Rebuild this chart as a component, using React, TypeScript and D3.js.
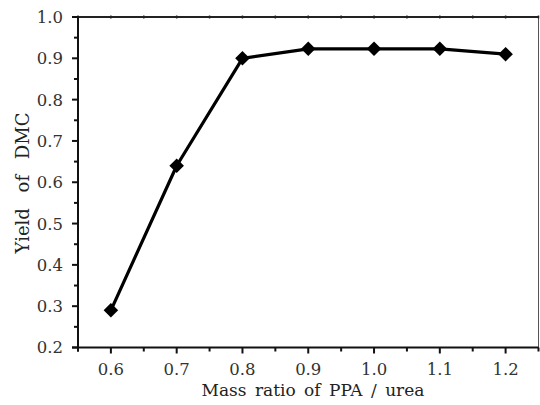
import React from "react";
import * as d3 from "d3";

const massRatio = [0.6, 0.7, 0.8, 0.9, 1.0, 1.1, 1.2];
const yieldDMC = [0.29, 0.64, 0.9, 0.923, 0.923, 0.923, 0.91];
const xTickValues = [0.6, 0.7, 0.8, 0.9, 1.0, 1.1, 1.2];
const yTickValues = [0.2, 0.3, 0.4, 0.5, 0.6, 0.7, 0.8, 0.9, 1.0];
const xLabel = "Mass ratio of PPA / urea";
const yLabel = "Yield of DMC";

export default function App() {
  const W = 540, H = 405;
  const left = 78, right = 538.5, top = 17, bottom = 347.5;
  const x = d3.scaleLinear().domain([0.55, 1.25]).range([left, right]);
  const y = d3.scaleLinear().domain([0.2, 1.0]).range([bottom, top]);
  const xMinor = d3.range(0.55, 1.26, 0.05).map(v => +v.toFixed(2));
  const yMinor = d3.range(0.2, 1.01, 0.05).map(v => +v.toFixed(2));
  const line = d3.line<number>().x((_, i) => x(massRatio[i])).y(d => y(d));
  const diamond = d3.symbol().type(d3.symbolDiamond2).size(135)();
  const font = "DejaVu Serif, Liberation Serif, serif";
  return (
    <svg width={W} height={H} style={{ position: "absolute", left: 0, top: 0, background: "#fff" }}>
      <rect x={left} y={top} width={right - left} height={bottom - top} fill="#fff" stroke="#555" strokeWidth={1} />
      {/* top axis */}
      <line x1={left} x2={right} y1={top} y2={top} stroke="#222" strokeWidth={2} />
      {xMinor.map(v => (
        <line key={"tx" + v} x1={x(v)} x2={x(v)} y1={top - 1.5} y2={top + 1.5} stroke="#222" strokeWidth={1.5} />
      ))}
      {/* bottom axis */}
      <line x1={left - 6} x2={right} y1={bottom} y2={bottom} stroke="#111" strokeWidth={2} />
      {xMinor.map(v => {
        const major = xTickValues.some(t => Math.abs(t - v) < 1e-6);
        return <line key={"bx" + v} x1={x(v)} x2={x(v)} y1={bottom} y2={bottom + (major ? 6 : 4)} stroke="#111" strokeWidth={2} />;
      })}
      {/* left axis */}
      <line x1={left} x2={left} y1={top} y2={bottom + 4} stroke="#111" strokeWidth={2} />
      {yMinor.map(v => {
        const major = yTickValues.some(t => Math.abs(t - v) < 1e-6);
        return <line key={"ly" + v} x1={left - (major ? 6 : 4)} x2={left + 1} y1={y(v)} y2={y(v)} stroke="#111" strokeWidth={2} />;
      })}
      {xTickValues.map(v => (
        <text key={"xl" + v} x={x(v)} y={375} textAnchor="middle" fontFamily={font} fontSize={16.5} fill="#333">
          {v.toFixed(1)}
        </text>
      ))}
      {yTickValues.map(v => (
        <text key={"yl" + v} x={63} y={y(v)} dy="0.36em" textAnchor="end" fontFamily={font} fontSize={16.5} fill="#333">
          {v.toFixed(1)}
        </text>
      ))}
      <path d={line(yieldDMC) || ""} fill="none" stroke="#000" strokeWidth={3.2} strokeLinejoin="round" />
      {yieldDMC.map((d, i) => (
        <path key={"m" + i} d={diamond || ""} transform={`translate(${x(massRatio[i])},${y(d)})`} fill="#000" />
      ))}
      <text x={313} y={396} textAnchor="middle" fontFamily={font} fontSize={17} wordSpacing={3} fill="#222">
        {xLabel}
      </text>
      <text transform={`translate(29,183) rotate(-90)`} textAnchor="middle" fontFamily={font} fontSize={18} wordSpacing={10} fill="#222">
        {yLabel}
      </text>
    </svg>
  );
}
